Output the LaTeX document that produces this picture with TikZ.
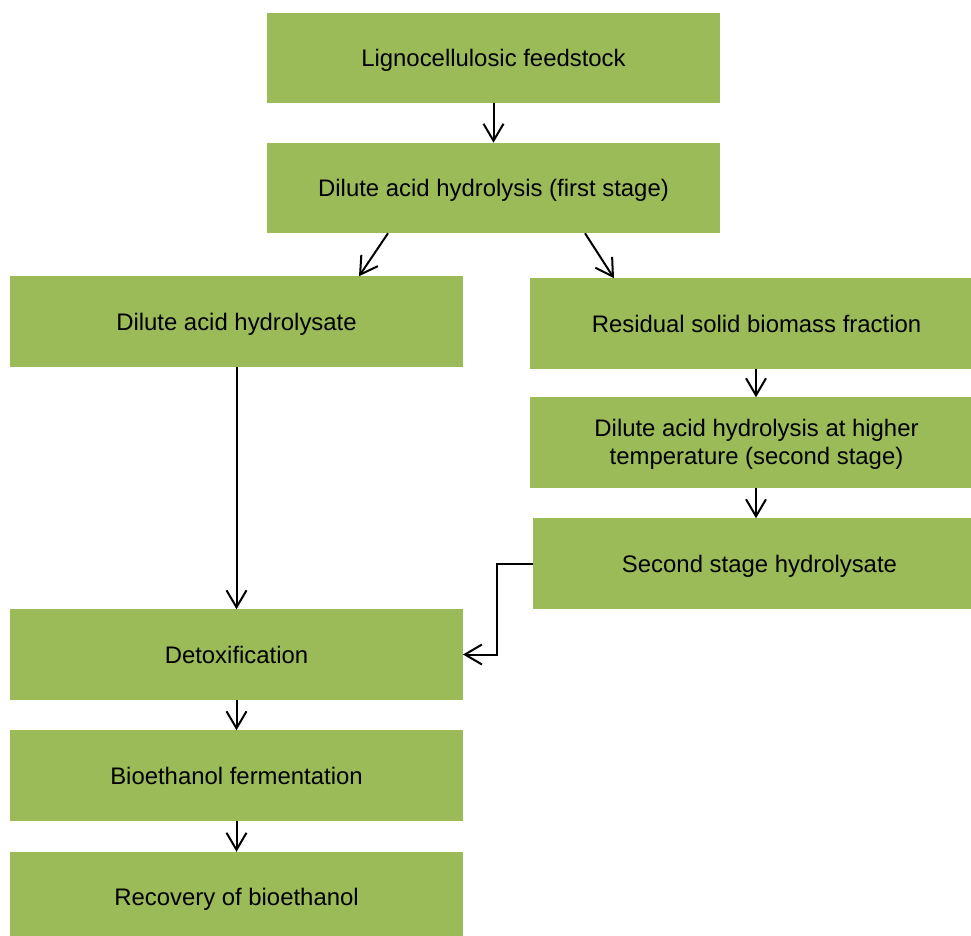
\documentclass[tikz,border=0pt]{standalone}
\usepackage{fontspec}
\setmainfont{Liberation Sans}
\usetikzlibrary{arrows.meta,calc}
\definecolor{boxgreen}{HTML}{9BBB59}
\begin{document}
\begin{tikzpicture}[x=1pt,y=-1pt,
  box/.style={fill=boxgreen, draw=none, minimum width=453pt, minimum height=90.5pt, inner sep=0pt, outer sep=0pt},
  txt/.style={anchor=base, inner sep=0pt, font=\fontsize{23.9}{27.6}\selectfont},
  arr/.style={line width=2pt, -{Straight Barb[length=17pt,width=20pt]}}]
\useasboundingbox (0,0) rectangle (971,936);
% boxes
\node[box] (b1) at (493.5,58) {};
\node[box] (b2) at (493.5,188) {};
\node[box] (b3) at (236.5,321.5) {};
\node[box] (b4) at (756.5,323.5) {};
\node[box] (b5) at (756.5,442.5) {};
\node[box] (b6) at (759.5,563.5) {};
\node[box] (b7) at (236.5,654.5) {};
\node[box] (b8) at (236.5,775.5) {};
\node[box] (b9) at (236.5,897) {};
% texts
\node[txt] (t1) at ($(b1.center)+(0,8.6)$) {Lignocellulosic feedstock};
\node[txt] (t2) at ($(b2.center)+(0,8.6)$) {Dilute acid hydrolysis (first stage)};
\node[txt] (t3) at ($(b3.center)+(0,8.6)$) {Dilute acid hydrolysate};
\node[txt] (t4) at ($(b4.center)+(0,8.6)$) {Residual solid biomass fraction};
\node[txt] (t5a) at ($(b5.center)+(0,-5.8)$) {Dilute acid hydrolysis at higher};
\node[txt] (t5b) at ($(b5.center)+(0,21.8)$) {temperature (second stage)};
\node[txt] (t6) at ($(b6.center)+(0,8.6)$) {Second stage hydrolysate};
\node[txt] (t7) at ($(b7.center)+(0,8.6)$) {Detoxification};
\node[txt] (t8) at ($(b8.center)+(0,8.6)$) {Bioethanol fermentation};
\node[txt] (t9) at ($(b9.center)+(0,8.6)$) {Recovery of bioethanol};
% connectors
\draw[arr] (b1.south) -- (b2.north);
\draw[arr] ($(b2.south west)+(121,0)$) -- ($(b3.north west)+(349,0)$);
\draw[arr] ($(b2.south west)+(318,0)$) -- ($(b4.north west)+(84,0)$);
\draw[arr] (b3.south) -- (b7.north);
\draw[arr] ($(b4.south west)+(226,0)$) -- ($(b5.north west)+(226,0)$);
\draw[arr] ($(b5.south west)+(226,0)$) -- ($(b6.north west)+(223,0)$);
\draw[arr] (b6.west) -- ++(-36,0) |- (b7.east);
\draw[arr] (b7.south) -- (b8.north);
\draw[arr] (b8.south) -- (b9.north);
\end{tikzpicture}
\end{document}
